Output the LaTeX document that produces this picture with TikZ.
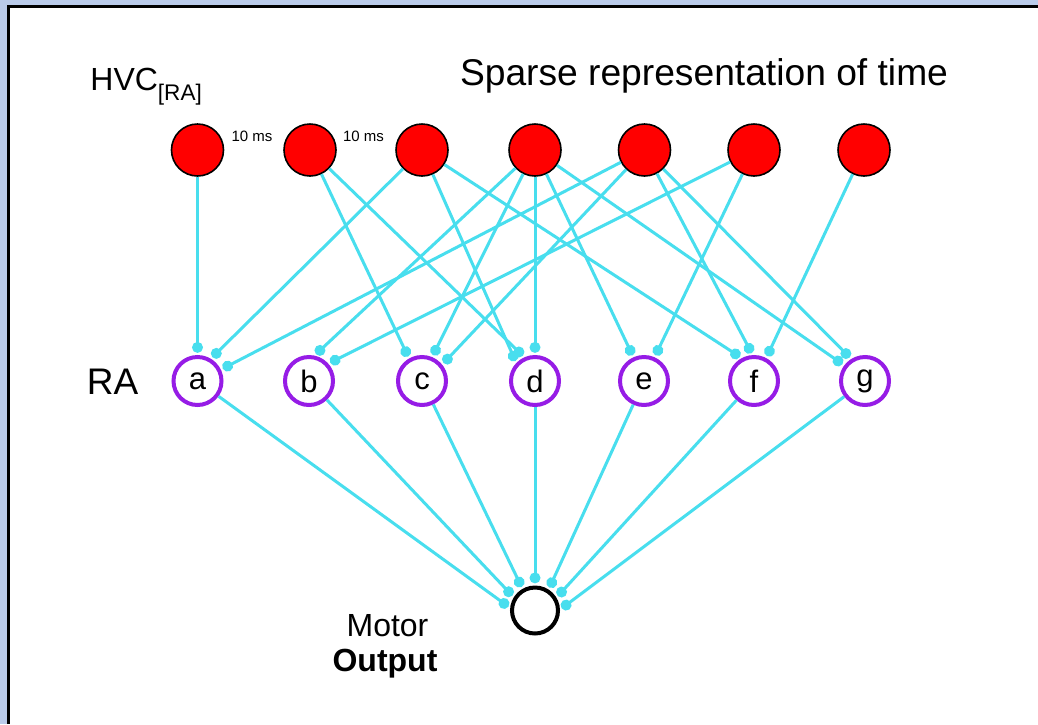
\documentclass[tikz,border=0pt]{standalone}
\usepackage{fontspec}
\setmainfont{Liberation Sans}
\usetikzlibrary{arrows.meta}
\definecolor{synblue}{RGB}{72,222,238}
\definecolor{rapurple}{RGB}{150,28,230}
\definecolor{frameblue}{RGB}{186,203,234}

\begin{document}
\begin{tikzpicture}[x=0.5pt, y=-0.5pt,
  hvc/.style={circle, draw=black, line width=0.8pt, fill=red, minimum size=26pt, inner sep=0pt},
  ranode/.style={circle, draw=rapurple, line width=2pt, fill=white, minimum size=24pt, inner sep=0pt, font=\fontsize{15.5}{18}\selectfont},
  motor/.style={circle, draw=black, line width=2pt, fill=white, minimum size=23pt, inner sep=0pt},
  syn/.style={-{Circle[length=5.4pt]}, line width=1.5pt, synblue, shorten >=1.1pt},
  lbl/.style={font=\fontsize{17}{20}\selectfont, inner sep=0pt, anchor=base},
  delay/.style={font=\fontsize{7.5}{9}\selectfont, inner sep=0pt, anchor=base}
]
  \useasboundingbox (0,0) rectangle (1038,724);
  % frame
  \fill[frameblue] (0,0) rectangle (1038,724);
  \fill[white] (8.5,6.5) rectangle (1038,724);
  \draw[line width=1.5pt] (8.5,724) -- (8.5,6.5) -- (1038,6.5);

  % labels
  \node[lbl, font=\fontsize{16}{19}\selectfont, anchor=base west] (hvclabel) at (90,90.5)
    {HVC\raisebox{-4.8pt}{\fontsize{11.3}{13}\selectfont[RA]}};
  \node[lbl, font=\fontsize{18.6}{22}\selectfont] (title) at (704,85) {Sparse representation of time};
  \node[lbl, font=\fontsize{18.5}{22}\selectfont] (ralabel) at (112.5,394) {RA};
  \node[lbl, font=\fontsize{16}{19}\selectfont] (motorlabel) at (387.5,636) {Motor};
  \node[lbl, font=\fontsize{16}{19}\selectfont\bfseries] (outputlabel) at (385,671) {Output};

  % HVC(RA) neurons
  \node[hvc] (h1) at (197.5,150) {};
  \node[hvc] (h2) at (310,150) {};
  \node[hvc] (h3) at (422,150) {};
  \node[hvc] (h4) at (535,150) {};
  \node[hvc] (h5) at (644.5,150) {};
  \node[hvc] (h6) at (754,150) {};
  \node[hvc] (h7) at (864,150) {};
  \node[delay] (delay1) at (252,141) {10 ms};
  \node[delay] (delay2) at (363.5,141) {10 ms};

  % RA neurons
  \node[ranode] (a) at (197.5,381) {a};
  \node[ranode] (b) at (309,381) {b};
  \node[ranode] (c) at (422,381) {c};
  \node[ranode] (d) at (535,381) {d};
  \node[ranode] (e) at (644,381) {e};
  \node[ranode] (f) at (754,381) {f};
  \node[ranode] (g) at (865,381) {g};

  \node[motor] (out) at (535,610.5) {};

  % HVC -> RA
  \draw[syn] (h1) -- (a.90);
  \draw[syn] (h2) -- (c.120);
  \draw[syn] (h2) -- (d.114);
  \draw[syn] (h3) -- (a.59);
  \draw[syn] (h3) -- (d.136);
  \draw[syn] (h3) -- (f.118);
  \draw[syn] (h4) -- (b.78);
  \draw[syn] (h4) -- (c.67);
  \draw[syn] (h4) -- (d.90);
  \draw[syn] (h4) -- (e.114);
  \draw[syn] (h4) -- (g.143);
  \draw[syn] (h5) -- (a.26);
  \draw[syn] (h5) -- (c.39);
  \draw[syn] (h5) -- (f.93);
  \draw[syn] (h5) -- (g.122);
  \draw[syn] (h6) -- (b.42);
  \draw[syn] (h6) -- (e.66);
  \draw[syn] (h7) -- (f.62);

  % RA -> motor output
  \draw[syn] (a) -- (out.174);
  \draw[syn] (b) -- (out.148);
  \draw[syn] (c) -- (out.120);
  \draw[syn] (d) -- (out.90);
  \draw[syn] (e) -- (out.57);
  \draw[syn] (f) -- (out.31);
  \draw[syn] (g) -- (out.2);
\end{tikzpicture}
\end{document}
